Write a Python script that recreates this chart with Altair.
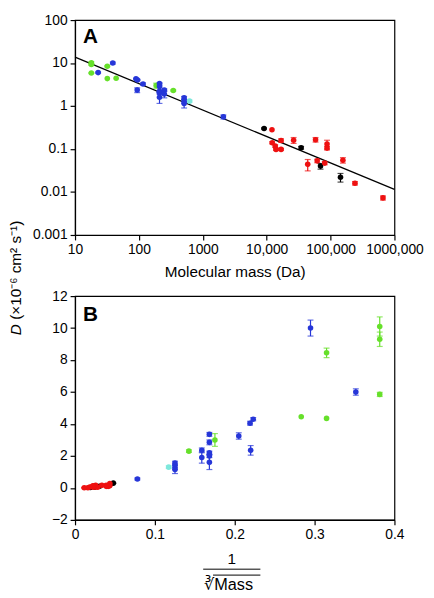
import json
import altair as alt
import pandas as pd

# ---------------- data ----------------
GROUPS = ["green", "cyan", "blue", "black", "red"]
COLORS = ["#66e02a", "#7ee8dc", "#2636d8", "#000000", "#ee1111"]

GREEN_MASS = [18, 18, 18, 32, 32, 44, 186, 345]
GREEN_D = [10.1, 9.3, 5.85, 8.45, 4.35, 4.45, 3.0, 2.3]
GREEN_ERR = [0.6, 0.45, 0.13, 0.3, 0.0, 0.0, 0.4, 0.08]

CYAN_MASS = [620]
CYAN_D = [1.3]
CYAN_ERR = [0.08]

BLUE_MASS = [23, 39, 90, 95, 116, 94, 210, 210, 210, 210, 210, 250, 250, 510, 510, 510, 2100]
BLUE_D = [6.0, 10.0, 4.3, 4.05, 3.25, 2.35, 3.35, 2.85, 2.2, 2.0, 1.6, 2.35, 1.9, 1.55, 1.3, 1.15, 0.56]
BLUE_ERR = [0.2, 0.5, 0.1, 0.12, 0.2, 0.3, 0.12, 0.15, 0.1, 0.1, 0.45, 0.15, 0.35, 0.12, 0.15, 0.25, 0.06]

BLACK_MASS = [9100, 34600, 69600, 143000]
BLACK_D = [0.30, 0.107, 0.040, 0.022]
BLACK_ERR = [0.01, 0.008, 0.006, 0.005]

RED_MASS = [12100, 12200, 13600, 14000, 16800, 16800, 26400, 43900, 58200,
            61800, 81000, 88000, 88000, 156000, 241000, 661000]
RED_D = [0.28, 0.14, 0.117, 0.098, 0.098, 0.158, 0.16, 0.044, 0.165,
         0.053, 0.047, 0.13, 0.105, 0.055, 0.016, 0.0073]
RED_ERR = [0.0, 0.008, 0.008, 0.005, 0.005, 0.015, 0.025, 0.013, 0.02,
           0.005, 0.004, 0.03, 0.01, 0.008, 0.0015, 0.0008]

FIT_MASS = [10, 1000000]
FIT_D = [13.7, 0.0115]

XA_TICKS = [10, 100, 1000, 10000, 100000, 1000000]
XA_LABELS = ["10", "100", "1000", "10,000", "100,000", "1000,000"]
YA_TICKS = [0.001, 0.01, 0.1, 1, 10, 100]
YA_LABELS = ["0.001", "0.01", "0.1", "1", "10", "100"]
XB_TICKS = [0, 0.1, 0.2, 0.3, 0.4]
YB_TICKS = [-2, 0, 2, 4, 6, 8, 10, 12]

Y_TITLE_D = "D"
Y_TITLE_REST = "(\u00d710\u207b\u2076 cm\u00b2 s\u207b\u00b9)"
XA_TITLE = "Molecular mass (Da)"
XB_NUM = "1"
XB_DEN = "\u221bMass"

# ---------------- tables ----------------
rows = []
for grp, ms, ds, es in [
    ("green", GREEN_MASS, GREEN_D, GREEN_ERR),
    ("cyan", CYAN_MASS, CYAN_D, CYAN_ERR),
    ("blue", BLUE_MASS, BLUE_D, BLUE_ERR),
    ("black", BLACK_MASS, BLACK_D, BLACK_ERR),
    ("red", RED_MASS, RED_D, RED_ERR),
]:
    for m, d, e in zip(ms, ds, es):
        rows.append({"grp": grp, "mass": m, "D": d, "err": e, "lo": d - e, "hi": d + e})
df = pd.DataFrame(rows)
fit_df = pd.DataFrame({"mass": FIT_MASS, "D": FIT_D})

W = 324
HA, HB = 218, 227
FONT = "Liberation Sans"
LBL = 14
TTL = 15.5
PT = 32

col = alt.Color("grp:N", scale=alt.Scale(domain=GROUPS, range=COLORS), legend=None)


def txt(s):
    return alt.Chart(pd.DataFrame({"t": [s]}))


# ---------------- panel A ----------------
xa_lab = "%s[round(log(datum.value)/LN10)-1]" % json.dumps(XA_LABELS)
ya_lab = "%s[round(log(datum.value)/LN10)+3]" % json.dumps(YA_LABELS)
xa_scale = alt.Scale(type="log", domain=[10, 1000000], nice=False)
ya_scale = alt.Scale(type="log", domain=[0.001, 100], nice=False)


def xA(f):
    return alt.X(f, scale=xa_scale, axis=alt.Axis(values=XA_TICKS, labelExpr=xa_lab, title=XA_TITLE))


def yA(f):
    return alt.Y(f, scale=ya_scale, axis=alt.Axis(values=YA_TICKS, labelExpr=ya_lab, title=None))


baseA = alt.Chart(df)
errA = baseA.transform_filter("datum.err > 0")
fitA = alt.Chart(fit_df).mark_line(color="black", strokeWidth=1.3).encode(x=xA("mass:Q"), y=yA("D:Q"))
barsA = errA.mark_rule(strokeWidth=1.2).encode(x=xA("mass:Q"), y=yA("lo:Q"), y2="hi:Q", color=col)
capLoA = errA.mark_tick(orient="horizontal", size=6, thickness=1.2).encode(x=xA("mass:Q"), y=yA("lo:Q"), color=col)
capHiA = errA.mark_tick(orient="horizontal", size=6, thickness=1.2).encode(x=xA("mass:Q"), y=yA("hi:Q"), color=col)
ptsA = baseA.mark_circle(size=PT, opacity=1).encode(x=xA("mass:Q"), y=yA("D:Q"), color=col)
lblA = txt("A").mark_text(font=FONT, fontSize=21, fontWeight="bold", align="left", baseline="top",
                          color="black").encode(x=alt.value(8), y=alt.value(6), text="t:N")
ytD = txt(Y_TITLE_D).mark_text(font=FONT, fontSize=TTL, fontStyle="italic", angle=270, align="center",
                                baseline="middle", color="black").encode(x=alt.value(-60), y=alt.value(314), text="t:N")
ytR = txt(Y_TITLE_REST).mark_text(font=FONT, fontSize=TTL, angle=270, align="left",
                                   baseline="middle", color="black").encode(x=alt.value(-60), y=alt.value(304), text="t:N")

panelA = alt.layer(fitA, barsA, capLoA, capHiA, ptsA, lblA, ytD, ytR).properties(width=W, height=HA)

# ---------------- panel B ----------------
xb_scale = alt.Scale(domain=[0, 0.4], nice=False)
yb_scale = alt.Scale(domain=[-2, 12], nice=False)


def xB(f):
    return alt.X(f, scale=xb_scale, axis=alt.Axis(values=XB_TICKS, format="~g", title=None))


def yB(f):
    return alt.Y(f, scale=yb_scale, axis=alt.Axis(values=YB_TICKS, title=None))


baseB = alt.Chart(df).transform_calculate(inv="pow(datum.mass, -1/3)")
errB = baseB.transform_filter("datum.err > 0")
barsB = errB.mark_rule(strokeWidth=1.2).encode(x=xB("inv:Q"), y=yB("lo:Q"), y2="hi:Q", color=col)
capLoB = errB.mark_tick(orient="horizontal", size=6, thickness=1.2).encode(x=xB("inv:Q"), y=yB("lo:Q"), color=col)
capHiB = errB.mark_tick(orient="horizontal", size=6, thickness=1.2).encode(x=xB("inv:Q"), y=yB("hi:Q"), color=col)
ptsB = baseB.mark_circle(size=PT, opacity=1).encode(x=xB("inv:Q"), y=yB("D:Q"), color=col)
lblB = txt("B").mark_text(font=FONT, fontSize=21, fontWeight="bold", align="left", baseline="top",
                          color="black").encode(x=alt.value(8), y=alt.value(8), text="t:N")

# x title of panel B: 1 over cube-root(Mass)
num = txt(XB_NUM).mark_text(font=FONT, fontSize=TTL, align="center", baseline="middle",
                            color="black").encode(x=alt.value(159), y=alt.value(HB + 40), text="t:N")
fracLine = txt("-").mark_rule(color="black", strokeWidth=1).encode(
    x=alt.value(130), x2=alt.value(188), y=alt.value(HB + 50))
den = txt(XB_DEN).mark_text(font=FONT, fontSize=16.5, align="left", baseline="alphabetic",
                            color="black").encode(x=alt.value(131), y=alt.value(HB + 71), text="t:N")
overLine = txt("-").mark_rule(color="black", strokeWidth=1).encode(
    x=alt.value(140), x2=alt.value(188), y=alt.value(HB + 56))

panelB = alt.layer(barsB, capLoB, capHiB, ptsB, lblB, num, fracLine, den,
                   overLine).properties(width=W, height=HB)

chart = (
    alt.vconcat(panelA, panelB, spacing=62, bounds="flush")
    .properties(padding={"left": 0, "top": 0, "right": 2, "bottom": 0})
    .configure_view(stroke="black", strokeWidth=1.2)
    .configure_axis(
        labelFont=FONT, labelFontSize=LBL, labelColor="black", labelFlush=False,
        labelOverlap=False,
        titleFont=FONT, titleFontSize=TTL, titleColor="black", titleFontWeight="normal",
        tickColor="black", domainColor="black", tickSize=5, labelPadding=3,
        domainWidth=1.2, tickWidth=1.2, titlePadding=8, grid=False,
    )
)

chart.save("out.html", embed_options={"renderer": "svg", "actions": False})
